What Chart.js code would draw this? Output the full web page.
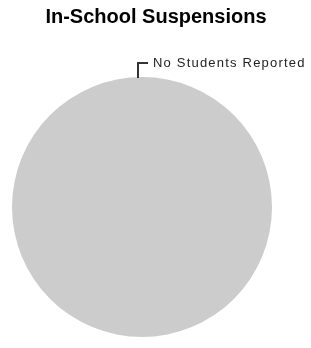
<!DOCTYPE html>
<html>
<head>
<meta charset="utf-8">
<script src="https://cdn.jsdelivr.net/npm/chart.js@4/dist/chart.umd.min.js"></script>
<style>
  html, body { margin: 0; padding: 0; background: #fff; }
  #wrap { width: 311px; height: 348px; position: relative; }
</style>
</head>
<body>
<div id="wrap"><canvas id="chart"></canvas></div>
<script>
const chartTitle = 'In-School Suspensions';
const categories = ['No Students Reported'];
const values = [1];
const colors = ['#cccccc'];

// title + callout label drawn on top of the pie
const calloutPlugin = {
	id: 'callout',
	afterDraw(chart) {
		const ctx = chart.ctx;
		ctx.save();
		ctx.fillStyle = '#000';
		ctx.font = 'bold 20px "Liberation Sans", Arial, sans-serif';
		ctx.textAlign = 'center';
		ctx.textBaseline = 'alphabetic';
		ctx.fillText(chartTitle, 156, 23);

		const arc = chart.getDatasetMeta(0).data[0];
		const top = arc.y - arc.outerRadius;
		const lx = arc.x - 4;
		ctx.strokeStyle = '#333';
		ctx.lineWidth = 2;
		ctx.beginPath();
		ctx.moveTo(lx, top + 1);
		ctx.lineTo(lx, top - 14);
		ctx.lineTo(lx + 10, top - 14);
		ctx.stroke();

		ctx.fillStyle = '#222';
		ctx.font = '13px "Liberation Sans", Arial, sans-serif';
		ctx.letterSpacing = '1.2px';
		ctx.textAlign = 'left';
		ctx.fillText(categories[0], lx + 15, top - 10);
		ctx.restore();
	}
};

new Chart(document.getElementById('chart'), {
	type: 'pie',
	data: {
		labels: categories,
		datasets: [{
			data: values,
			backgroundColor: colors,
			borderWidth: 0
		}]
	},
	options: {
		responsive: true,
		maintainAspectRatio: false,
		animation: false,
		layout: {
			padding: { left: 12, right: 39, top: 77, bottom: 11 }
		},
		plugins: {
			legend: { display: false },
			tooltip: { enabled: false },
			title: { display: false }
		}
	},
	plugins: [calloutPlugin]
});
</script>
</body>
</html>
